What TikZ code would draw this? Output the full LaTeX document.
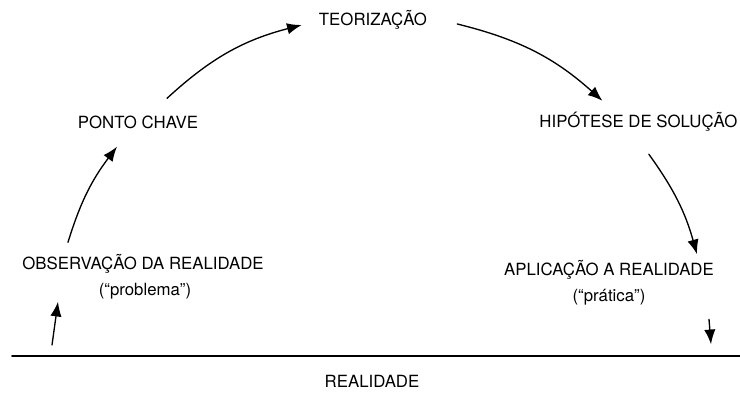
\documentclass[tikz,border=0pt]{standalone}
\usepackage{fontspec}
\setmainfont{TeX Gyre Heros}
\usetikzlibrary{arrows.meta}

\tikzset{
  etapa/.style={font=\fontsize{12.6}{15}\selectfont, inner sep=3pt},
  seta/.style={line width=1pt, -{Latex[length=11pt,width=8.5pt]}},
}

\begin{document}
\begin{tikzpicture}[line cap=round,line join=round,x=0.75pt,y=-0.75pt]
    \useasboundingbox (0,0) rectangle (740,401);
    % etapas do arco
    \node[etapa] (teor) at (373,20) {TEORIZAÇÃO};
    \node[etapa] (ponto) at (138,122) {PONTO CHAVE};
    \node[etapa, anchor=east, inner sep=1pt] (hip) at (739,122) {HIPÓTESE DE SOLUÇÃO};
    \node[etapa] (obs) at (143,264) {OBSERVAÇÃO DA REALIDADE};
    \node[etapa] (prob) at (145,291) {(“problema”)};
    \node[etapa] (aplic) at (609,270) {APLICAÇÃO A REALIDADE};
    \node[etapa] (prat) at (609,297) {(“prática”)};
    \node[etapa] (real) at (372,381) {REALIDADE};
    % linha da realidade
    \coordinate (linhaE) at (12,356);
    \coordinate (linhaD) at (740,356);
    \draw [line width=1.2pt] (linhaE) -- (linhaD);
    % setas
    \draw [seta] ([shift={(40,-11)}]linhaE) -- ([shift={(-85,24)}]obs.south);
    \draw [seta] ([shift={(-75,-8)}]obs.north) to[bend left=10] ([shift={(-21,14)}]ponto.south);
    \draw [seta] ([shift={(29,-13)}]ponto.north) to[bend left=14] ([shift={(-13,5)}]teor.west);
    \draw [seta] ([shift={(26,4)}]teor.east) to[bend left=14] ([shift={(-36,-10)}]hip.north);
    \draw [seta] ([shift={(111,21)}]hip.south west) to[bend left=10] ([shift={(88,-2)}]aplic.north);
    \draw [seta] ([shift={(100,10)}]prat.south) -- ([shift={(102,35)}]prat.south);
\end{tikzpicture}
\end{document}
